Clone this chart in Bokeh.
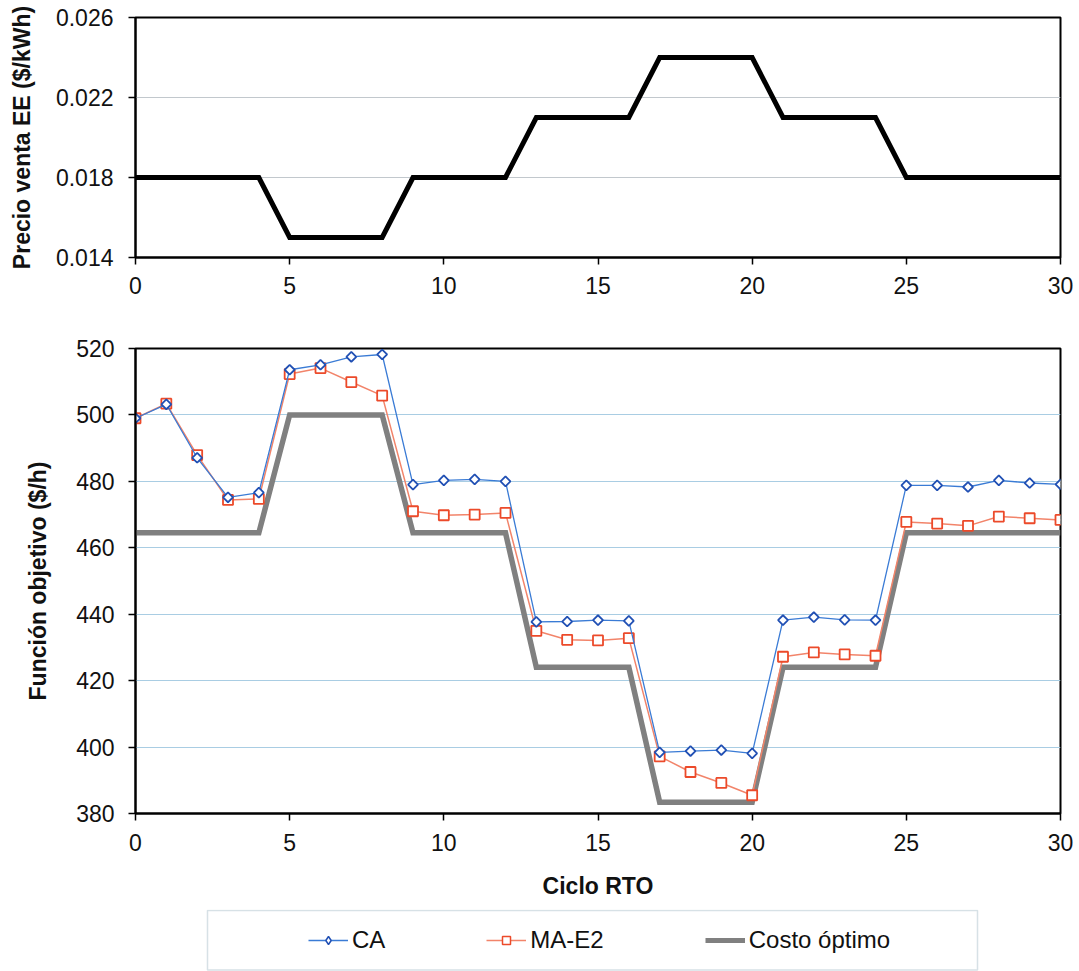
from bokeh.plotting import figure
from bokeh.layouts import column
from bokeh.models import (Range1d, FixedTicker, NumeralTickFormatter, Legend,
                          LegendItem, ColumnDataSource, BoxAnnotation)
from bokeh.embed import file_html
from bokeh.resources import INLINE

# ---------------- data ----------------
cycles = [0, 1, 2, 3, 4, 5, 6, 7, 8, 9, 10, 11, 12, 13, 14, 15, 16, 17, 18, 19, 20,
          21, 22, 23, 24, 25, 26, 27, 28, 29, 30]
price = [0.018, 0.018, 0.018, 0.018, 0.018, 0.015, 0.015, 0.015, 0.015, 0.018, 0.018,
         0.018, 0.018, 0.021, 0.021, 0.021, 0.021, 0.024, 0.024, 0.024, 0.024, 0.021,
         0.021, 0.021, 0.021, 0.018, 0.018, 0.018, 0.018, 0.018, 0.018]
ca = [499.0, 503.2, 487.1, 475.2, 476.6, 513.6, 515.1, 517.5, 518.2, 479.0, 480.3,
      480.6, 480.0, 437.7, 437.8, 438.2, 438.0, 398.4, 398.8, 399.1, 398.1, 438.2,
      439.1, 438.3, 438.2, 478.8, 478.8, 478.3, 480.3, 479.5, 479.1]
ma_e2 = [499.0, 503.4, 487.9, 474.4, 474.7, 512.3, 514.1, 509.9, 505.8, 471.0, 469.8,
         470.0, 470.5, 435.0, 432.3, 432.1, 432.8, 397.2, 392.5, 389.2, 385.5, 427.2,
         428.5, 427.9, 427.5, 467.8, 467.3, 466.6, 469.4, 468.9, 468.4]
costo_optimo = [464.5, 464.5, 464.5, 464.5, 464.5, 500.0, 500.0, 500.0, 500.0, 464.5,
                464.5, 464.5, 464.5, 424.0, 424.0, 424.0, 424.0, 383.4, 383.4, 383.4,
                383.4, 424.0, 424.0, 424.0, 424.0, 464.5, 464.5, 464.5, 464.5, 464.5, 464.5]

x_ticks = [0, 5, 10, 15, 20, 25, 30]
y_ticks_top = [0.014, 0.018, 0.022, 0.026]
y_ticks_bottom = [380, 400, 420, 440, 460, 480, 500, 520]
series_names = ["CA", "MA-E2", "Costo óptimo"]

FONT = "Liberation Sans"
TXT = "#111111"
LEFT, RIGHT = 135, 19          # shared frame borders (frames are aligned in the column)
W = 1079

src = ColumnDataSource(dict(x=cycles, price=price, ca=ca, ma=ma_e2, opt=costo_optimo))


def style(p, grid_color):
    p.outline_line_color = "black"
    p.outline_line_width = 2
    p.background_fill_color = "white"
    p.border_fill_color = "white"
    for ax in (p.xaxis[0], p.yaxis[0]):
        ax.axis_line_color = "black"
        ax.axis_line_width = 2
        ax.major_tick_line_color = "black"
        ax.major_tick_line_width = 1.5
        ax.major_tick_out = 7
        ax.major_tick_in = 0
        ax.minor_tick_line_color = None
        ax.major_label_text_font = FONT
        ax.major_label_text_font_size = "23px"
        ax.major_label_text_color = TXT
        ax.axis_label_text_font = FONT
        ax.axis_label_text_font_size = "23px"
        ax.axis_label_text_font_style = "bold"
        ax.axis_label_text_color = TXT
    p.xgrid.visible = False
    p.ygrid.grid_line_color = grid_color
    p.ygrid.grid_line_width = 1.2


# ---------------- top chart ----------------
top = figure(width=W, height=305, x_range=Range1d(0, 30), y_range=Range1d(0.014, 0.026),
             output_backend="svg", toolbar_location=None,
             min_border_left=LEFT, min_border_right=RIGHT, min_border_top=17,
             min_border_bottom=48)
style(top, "#c2c8cd")
top.xaxis.ticker = FixedTicker(ticks=x_ticks)
top.yaxis.ticker = FixedTicker(ticks=y_ticks_top)
top.ygrid.ticker = FixedTicker(ticks=y_ticks_top)
top.yaxis.formatter = NumeralTickFormatter(format="0.000")
top.yaxis.axis_label = "Precio venta EE ($/kWh)"
top.yaxis.major_label_standoff = 15
top.yaxis.axis_label_standoff = 18
top.xaxis.major_label_standoff = 12
top.line("x", "price", source=src, line_color="black", line_width=5, line_join="miter")

# ---------------- bottom chart ----------------
bot = figure(width=W, height=604, x_range=Range1d(0, 30), y_range=Range1d(380, 520),
             output_backend="svg", toolbar_location=None,
             min_border_left=LEFT, min_border_right=RIGHT, min_border_top=43,
             min_border_bottom=96)
style(bot, "#a9cde3")
bot.xaxis.ticker = FixedTicker(ticks=x_ticks)
bot.yaxis.ticker = FixedTicker(ticks=y_ticks_bottom)
bot.ygrid.ticker = FixedTicker(ticks=y_ticks_bottom)
bot.yaxis.axis_label = "Función objetivo ($/h)"
bot.xaxis.axis_label = "Ciclo RTO"
bot.yaxis.major_label_standoff = 14
bot.yaxis.axis_label_standoff = 22
bot.xaxis.major_label_standoff = 13
bot.xaxis.axis_label_standoff = 19

bot.line("x", "opt", source=src, line_color="#808080", line_width=5.5, line_join="miter")
bot.line("x", "ma", source=src, line_color="#f2846a", line_width=1.5)
bot.scatter("x", "ma", source=src, marker="square", size=10, line_color="#ec4a2a",
            line_width=1.8, fill_color="white")
bot.line("x", "ca", source=src, line_color="#3a7bd5", line_width=1.3)
bot.scatter("x", "ca", source=src, marker="square", angle=0.785398, size=7,
            line_color="#2150b4", line_width=1.8, fill_color="white")

# ---------------- legend strip (frame aligned with the charts; pixel-like ranges) ----
LEG_H = 62
leg = figure(width=W, height=LEG_H, x_range=Range1d(LEFT, W - RIGHT), y_range=Range1d(0, LEG_H),
             output_backend="svg", toolbar_location=None,
             x_axis_location=None, y_axis_location=None,
             min_border_left=LEFT, min_border_right=RIGHT, min_border_top=0,
             min_border_bottom=0)
leg.outline_line_color = None
leg.grid.visible = False
leg.background_fill_color = "white"
leg.border_fill_color = "white"
leg.add_layout(BoxAnnotation(left=207, right=977, bottom=1.5, top=61, fill_alpha=0,
                             line_color="#7b9cab", line_width=1.5))
# legend sample renderers (their data lies outside this strip's y range)
l1 = leg.line("x", "ca", source=src, line_color="#3a7bd5", line_width=1.3)
m1 = leg.scatter("x", "ca", source=src, marker="diamond", size=11,
                 line_color="#2150b4", line_width=1.5, fill_color="white")
l2 = leg.line("x", "ma", source=src, line_color="#f2846a", line_width=1.5)
m2 = leg.scatter("x", "ma", source=src, marker="square", size=8, line_color="#ec4a2a",
                 line_width=1.5, fill_color="white")
l3 = leg.line("x", "opt", source=src, line_color="#808080", line_width=5)
legend = Legend(items=[LegendItem(label=series_names[0], renderers=[l1, m1]),
                       LegendItem(label=series_names[1], renderers=[l2, m2]),
                       LegendItem(label=series_names[2], renderers=[l3])],
                location=(308 - LEFT, 17), orientation="horizontal", margin=0, padding=0,
                spacing=101, glyph_width=40, glyph_height=20, label_height=20,
                label_standoff=4,
                label_text_font=FONT, label_text_font_size="24px", label_text_color=TXT,
                border_line_alpha=0, background_fill_alpha=0)
leg.add_layout(legend, "center")

layout = column(top, bot, leg, spacing=0)
open("out.html", "w").write(file_html(layout, INLINE))
